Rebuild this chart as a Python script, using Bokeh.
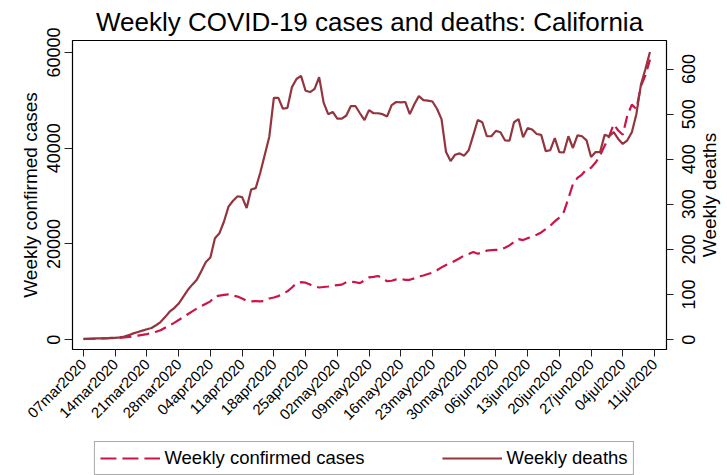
import math
from bokeh.plotting import figure
from bokeh.layouts import column, row
from bokeh.models import (Range1d, LinearAxis, FixedTicker, Legend, LegendItem,
                          ColumnDataSource)
from bokeh.core.properties import value
from bokeh.embed import file_html
from bokeh.resources import INLINE

# ---- data (daily values of 7-day totals, 07mar2020 .. 10jul2020) ----
weekly_cases = [
    150, 170, 200, 230, 260, 290, 320, 340, 360, 450,
    560, 700, 850, 1000, 1150, 1400, 1650, 1950, 2500, 3000,
    3500, 4100, 4700, 5300, 5900, 6500, 7000, 7500, 8000, 9000,
    9200, 9350, 9450, 9200, 9000, 8600, 8100, 8000, 8050, 8000,
    8050, 8600, 8800, 9100, 9600, 10100, 10900, 11800, 12000, 11900,
    11500, 11100, 10900, 11000, 11100, 11300, 11400, 11500, 12000, 12100,
    12000, 11800, 12400, 13000, 13100, 13300, 12800, 12200, 12300, 12600,
    12700, 12500, 12500, 12800, 13200, 13400, 13700, 14000, 14500, 15100,
    15600, 16000, 16500, 17000, 17600, 17900, 18300, 17950, 18200, 18600,
    18700, 18750, 18800, 19200, 19700, 20400, 21000, 20800, 21200, 21500,
    21900, 22400, 23100, 23800, 24700, 25500, 26700, 29500, 32500, 33800,
    34500, 35600, 35900, 37000, 38500, 40500, 42500, 45000, 43700, 42800,
    46800, 49100, 48200, 53000, 55200, 58500,
]
weekly_deaths = [
    1, 2, 2, 3, 3, 3, 4, 4, 5, 7,
    10, 14, 17, 20, 23, 26, 32, 39, 50, 62,
    70, 80, 95, 110, 122, 133, 152, 172, 182, 225,
    236, 262, 295, 308, 318, 316, 292, 333, 336, 370,
    410, 450, 536, 536, 512, 514, 560, 578, 585, 552,
    549, 556, 582, 525, 500, 505, 490, 490, 497, 518,
    518, 502, 487, 509, 502, 502, 500, 495, 520, 527,
    526, 527, 500, 522, 540, 531, 530, 528, 512, 489,
    416, 396, 410, 413, 408, 420, 453, 487, 482, 451,
    451, 463, 460, 442, 441, 482, 489, 449, 469, 466,
    456, 454, 418, 420, 447, 416, 415, 451, 425, 453,
    451, 442, 405, 416, 416, 454, 451, 460, 445, 434,
    442, 460, 500, 565, 600, 638,
]
day_index = list(range(len(weekly_cases)))

tick_days = [0, 7, 14, 21, 28, 35, 42, 49, 56, 63, 70, 77, 84, 91, 98, 105, 112, 119, 126]
tick_labels = ["07mar2020", "14mar2020", "21mar2020", "28mar2020", "04apr2020",
               "11apr2020", "18apr2020", "25apr2020", "02may2020", "09may2020",
               "16may2020", "23may2020", "30may2020", "06jun2020", "13jun2020",
               "20jun2020", "27jun2020", "04jul2020", "11jul2020"]
cases_ticks = [0, 20000, 40000, 60000]
deaths_ticks = [0, 100, 200, 300, 400, 500, 600]
legend_labels = ["Weekly confirmed cases", "Weekly deaths"]
right_title = "Weekly deaths"

FONT = "Liberation Sans"
CASES_COLOR = "#cd1446"
DEATHS_COLOR = "#93343f"

CASES_RANGE = (-2060, 62500)
DEATHS_RANGE = (-21.8, 663.3)

src = ColumnDataSource(dict(x=day_index, cases=weekly_cases, deaths=weekly_deaths))

# ---------------- main chart ----------------
p = figure(width=674, height=440, output_backend="svg", toolbar_location=None,
           x_range=Range1d(-2.43, 128.65), y_range=Range1d(*CASES_RANGE),
           min_border_left=72, min_border_right=8, min_border_top=35,
           min_border_bottom=91)
p.background_fill_color = "white"
p.border_fill_color = "white"
p.outline_line_color = "black"
p.outline_line_width = 1.2
p.xgrid.visible = False
p.ygrid.visible = False

p.title.text = "Weekly COVID-19 cases and deaths: California"
p.title.text_font = FONT
p.title.text_font_size = "26px"
p.title.text_font_style = "normal"
p.title.text_color = "black"
p.title.align = "center"
p.title.standoff = 8
p.title.offset = 0

p.extra_y_ranges = {"deaths": Range1d(*DEATHS_RANGE)}

p.line("x", "cases", source=src, line_color=CASES_COLOR, line_width=2.2,
       line_dash="12 6")
p.line("x", "deaths", source=src, y_range_name="deaths",
       line_color=DEATHS_COLOR, line_width=2.2)

def style_axis(ax):
    ax.axis_line_color = None
    ax.major_tick_line_color = "#222222"
    ax.major_tick_line_width = 1
    ax.minor_tick_line_color = None
    ax.major_tick_in = 0
    ax.major_label_text_font = FONT
    ax.major_label_text_color = "black"
    ax.axis_label_text_font = FONT
    ax.axis_label_text_font_style = "normal"
    ax.axis_label_text_color = "black"

xa = p.xaxis[0]
style_axis(xa)
xa.ticker = FixedTicker(ticks=tick_days)
xa.major_label_overrides = {d: s for d, s in zip(tick_days, tick_labels)}
xa.major_label_orientation = math.pi / 4
xa.major_label_text_font_size = "15px"
xa.major_tick_out = 7
xa.major_label_standoff = 5

ya = p.yaxis[0]
style_axis(ya)
ya.ticker = FixedTicker(ticks=cases_ticks)
ya.major_label_orientation = "vertical"
ya.major_label_text_font_size = "18px"
ya.major_tick_out = 8
ya.major_label_standoff = 4
ya.axis_label = "Weekly confirmed cases"
ya.axis_label_text_font_size = "19px"
ya.axis_label_standoff = 4

# right axis: ticks only (its labels are written in the strip to the right)
yr = LinearAxis(y_range_name="deaths")
style_axis(yr)
yr.ticker = FixedTicker(ticks=deaths_ticks)
yr.major_label_overrides = {t: "" for t in deaths_ticks}
yr.major_label_text_font_size = "1px"
yr.major_label_standoff = 0
yr.major_tick_out = 7
p.add_layout(yr, "right")

# ---------------- right strip: deaths tick labels + axis title ----------------
rs = figure(width=53, height=440, output_backend="svg", toolbar_location=None,
            x_axis_location=None, y_axis_location=None,
            x_range=Range1d(674, 727), y_range=Range1d(*DEATHS_RANGE),
            min_border_left=0, min_border_right=0, min_border_top=35,
            min_border_bottom=91)
rs.outline_line_color = None
rs.xgrid.visible = False
rs.ygrid.visible = False
rs.background_fill_color = "white"
rs.border_fill_color = "white"
rs.text(x=[688] * len(deaths_ticks), y=deaths_ticks,
        text=[str(t) for t in deaths_ticks], angle=math.pi / 2,
        text_align="center", text_baseline="middle",
        text_font=value(FONT), text_font_size="18px", text_color="black")
rs.text(x=[709], y=[(DEATHS_RANGE[0] + DEATHS_RANGE[1]) / 2], text=[right_title],
        angle=math.pi / 2, text_align="center", text_baseline="middle",
        text_font=value(FONT), text_font_size="19px", text_color="black")

# ---------------- legend strip below the chart ----------------
lg = figure(width=727, height=35, output_backend="svg", toolbar_location=None,
            x_axis_location=None, y_axis_location=None,
            x_range=Range1d(0, 1), y_range=Range1d(0, 1),
            min_border_left=0, min_border_right=0, min_border_top=0,
            min_border_bottom=0)
lg.outline_line_color = None
lg.xgrid.visible = False
lg.ygrid.visible = False
lg.background_fill_color = "white"
lg.border_fill_color = "white"
# legend keys only: these lines lie outside the strip's visible range
lc = lg.line(x=[-5, -4], y=[-5, -5], line_color=CASES_COLOR, line_width=2.2,
             line_dash="16 6")
ld = lg.line(x=[-5, -4], y=[-5, -5], line_color=DEATHS_COLOR, line_width=2.2)
legend = Legend(items=[LegendItem(label=legend_labels[0], renderers=[lc]),
                       LegendItem(label=legend_labels[1], renderers=[ld])],
                orientation="horizontal", location="center",
                label_text_font=FONT, label_text_font_size="18.5px",
                label_text_color="black",
                glyph_width=60, glyph_height=20, label_standoff=5,
                spacing=77, padding=5, margin=0,
                border_line_color="#555555", border_line_width=1,
                background_fill_color="white", background_fill_alpha=1)
lg.add_layout(legend)

layout = column(row(p, rs, spacing=0), lg, spacing=0)
open("out.html", "w").write(file_html(layout, INLINE))
